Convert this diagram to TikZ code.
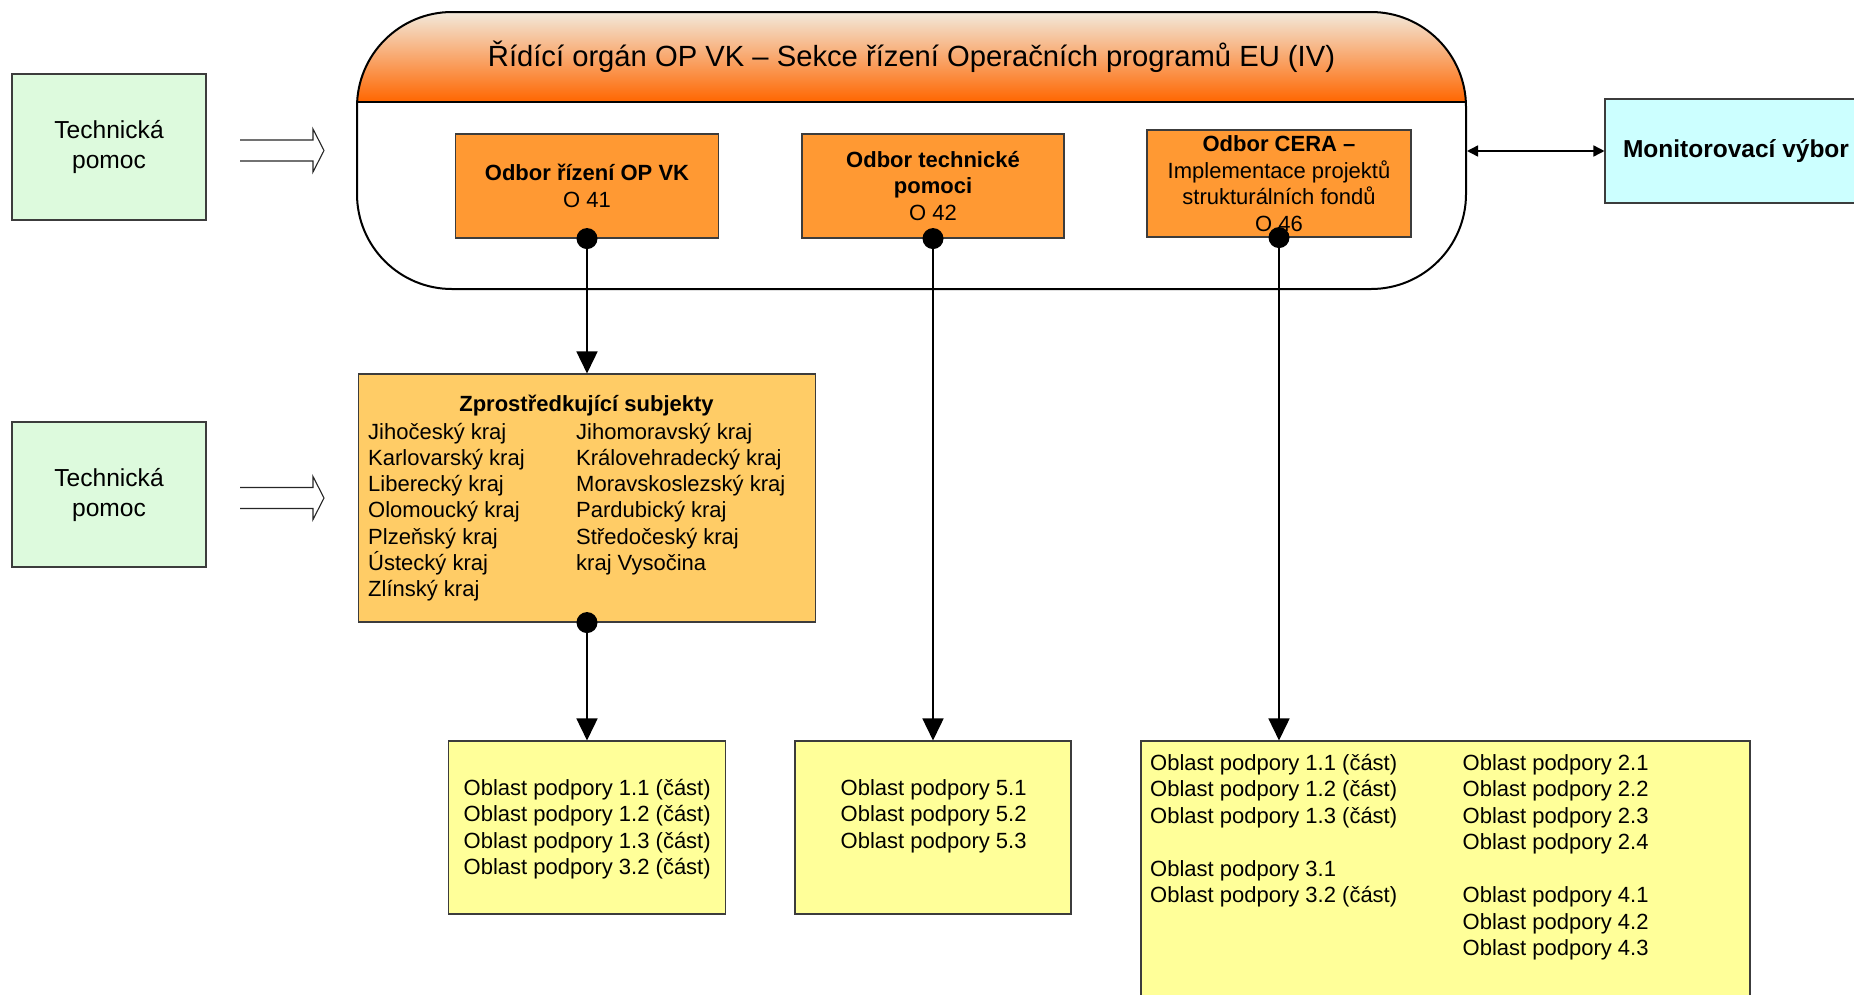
\documentclass[tikz,border=0pt]{standalone}
\usepackage{fontspec}
\setmainfont{Liberation Sans}
\usetikzlibrary{arrows.meta}
\definecolor{hdrtop}{RGB}{242,236,224}
\definecolor{hdrbot}{RGB}{255,102,0}
\definecolor{tpgreen}{RGB}{221,250,221}
\definecolor{monblue}{RGB}{204,255,255}
\definecolor{oorange}{RGB}{255,153,51}
\definecolor{zsorange}{RGB}{255,204,102}
\definecolor{byellow}{RGB}{255,255,153}
\definecolor{edgegray}{RGB}{60,60,60}
\tikzset{
  boxbase/.style={rectangle, draw=edgegray, line width=1.1pt, inner sep=0pt, align=center},
  tpbox/.style={boxbase, fill=tpgreen, font=\fontsize{24.6}{30}\selectfont},
  monbox/.style={boxbase, fill=monblue, font=\fontsize{24.5}{30}\selectfont\bfseries},
  obox/.style={boxbase, fill=oorange, font=\fontsize{22}{26.5}\selectfont},
  zsbox/.style={boxbase, fill=zsorange},
  ybox/.style={boxbase, fill=byellow},
  txt/.style={inner sep=0pt, font=\fontsize{22}{26.5}\selectfont},
  conn/.style={line width=1.6pt, -{Triangle[length=22pt,width=21pt]}},
  dotmark/.style={fill=black},
  dblarrow/.style={line width=1.1pt, draw=black!85}
}
\begin{document}
\begin{tikzpicture}[x=1pt,y=-1pt]
\useasboundingbox (0,0) rectangle (1854,994);
\clip (0,0) rectangle (1854,994);

% rounded main box with shaded header
\begin{scope}
  \clip[rounded corners=95pt] (357,12) rectangle (1466,289);
  \shade[top color=hdrtop, bottom color=hdrbot] (350,10) rectangle (1470,102);
\end{scope}
\node[rectangle, rounded corners=95pt, draw=black, line width=2pt,
      minimum width=1109pt, minimum height=277pt, inner sep=0pt] (ro) at (911.5,150.5) {};
\draw[line width=1.5pt] (ro.west |- 0,102) -- (ro.east |- 0,102);
\node[inner sep=0pt, font=\fontsize{29.2}{34}\selectfont] (title) at (911.5,57)
  {Řídící orgán OP VK – Sekce řízení Operačních programů EU (IV)};

% orange boxes
\node[obox, minimum width=263pt, minimum height=104pt] (o41) at (587,186)
  {\textbf{Odbor řízení OP VK}\\O 41};
\node[obox, minimum width=262pt, minimum height=104pt] (o42) at (933,186)
  {\textbf{Odbor technické}\\\textbf{pomoci}\\O 42};
\node[obox, minimum width=264pt, minimum height=107pt] (o46) at (1279,183.5)
  {\textbf{Odbor CERA –}\\Implementace projektů\\strukturálních fondů\\O 46};

% technical help boxes
\node[tpbox, minimum width=194pt, minimum height=146pt] (tp1) at (109,147) {Technická\\pomoc};
\node[tpbox, minimum width=194pt, minimum height=145pt] (tp2) at (109,494.5) {Technická\\pomoc};

% double outline arrows
\coordinate (da1) at (240,150.5);
\coordinate (da2) at (240,498);
\foreach \c in {da1,da2}{
  \draw[dblarrow] ([shift={(0,-10.5)}]\c) -- ++(73,0) -- ++(0,-11) -- ++(11,21.5)
    -- ++(-11,21.5) -- ++(0,-11) -- ++(-73,0);
}

% monitoring committee
\node[monbox, minimum width=262pt, minimum height=104pt] (mon) at (1736,151) {Monitorovací výbor};
\draw[line width=1.5pt, {Triangle[length=11pt,width=11pt]}-{Triangle[length=11pt,width=11pt]}]
  (ro.east |- mon.west) -- (mon.west);

% intermediate bodies
\node[zsbox, minimum width=457pt, minimum height=248pt] (zs) at (587,498) {};
\node[txt, font=\fontsize{22}{26.5}\selectfont\bfseries, anchor=base] (zst) at (586.5,411.5)
  {Zprostředkující subjekty};
\foreach \t [count=\i from 0] in {Jihočeský kraj,Karlovarský kraj,Liberecký kraj,Olomoucký kraj,Plzeňský kraj,Ústecký kraj,Zlínský kraj}{
  \node[txt, anchor=base west] (zl\i) at (368,439+26.3*\i) {\t};
}
\foreach \t [count=\i from 0] in {Jihomoravský kraj,Královehradecký kraj,Moravskoslezský kraj,Pardubický kraj,Středočeský kraj,kraj Vysočina}{
  \node[txt, anchor=base west] (zr\i) at (576,439+26.3*\i) {\t};
}

% bottom boxes
\node[ybox, minimum width=277pt, minimum height=173pt] (b1) at (587,827.5) {};
\node[ybox, minimum width=276pt, minimum height=173pt] (b2) at (933,827.5) {};
\node[ybox, minimum width=609pt, minimum height=269pt] (b3) at (1445.5,875.5) {};

\foreach \t [count=\i from 0] in {Oblast podpory 1.1 (část),Oblast podpory 1.2 (část),Oblast podpory 1.3 (část),Oblast podpory 3.2 (část)}{
  \node[txt, anchor=base west] (b1t\i) at (463.5,795+26.5*\i) {\t};
}
\foreach \t [count=\i from 0] in {Oblast podpory 5.1,Oblast podpory 5.2,Oblast podpory 5.3}{
  \node[txt, anchor=base west] (b2t\i) at (840.5,795+26.5*\i) {\t};
}
\foreach \t/\r [count=\i] in {Oblast podpory 1.1 (část)/0,Oblast podpory 1.2 (část)/1,Oblast podpory 1.3 (část)/2,Oblast podpory 3.1/4,Oblast podpory 3.2 (část)/5}{
  \node[txt, anchor=base west] (b3l\i) at (1150,770+26.5*\r) {\t};
}
\foreach \t/\r [count=\i] in {Oblast podpory 2.1/0,Oblast podpory 2.2/1,Oblast podpory 2.3/2,Oblast podpory 2.4/3,Oblast podpory 4.1/5,Oblast podpory 4.2/6,Oblast podpory 4.3/7}{
  \node[txt, anchor=base west] (b3r\i) at (1462.5,770+26.5*\r) {\t};
}

% connectors
\draw[conn] (o41.south) -- (zs.north);
\draw[conn] (o42.south) -- (b2.north);
\draw[conn] (o46.south) -- (o46.south |- b3.north);
\draw[conn] (zs.south) -- (b1.north);

% dots
\foreach \n in {o41,o42,o46,zs}{
  \fill[dotmark] (\n.south) circle (10.5pt);
}
\end{tikzpicture}
\end{document}
